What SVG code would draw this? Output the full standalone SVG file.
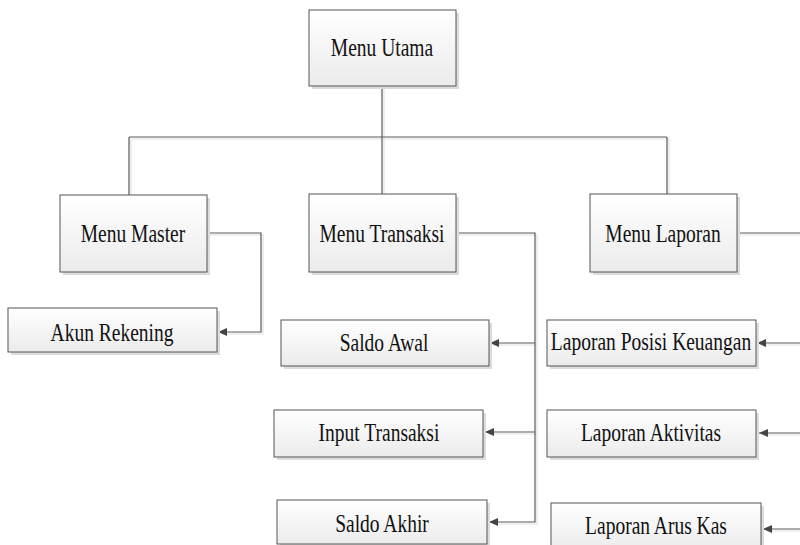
<svg xmlns="http://www.w3.org/2000/svg" width="800" height="545" viewBox="0 0 800 545">
  <style>
    .box { fill: url(#boxFill); stroke: #555; stroke-width: 1; }
    .shade { fill: #dcdcdc; }
    .label { font-size: 26px; fill: #111; text-anchor: middle; }
    .wires { fill: none; stroke: #5a5a5a; stroke-width: 1.2; }
    .wires-shade { fill: none; stroke: #e2e2e2; stroke-width: 1.2; }
  </style>
  <defs>
    <linearGradient id="boxFill" x1="0" y1="0" x2="0" y2="1">
      <stop offset="0" stop-color="#ffffff"/>
      <stop offset="1" stop-color="#ebebeb"/>
    </linearGradient>
    <marker id="arrow" markerUnits="userSpaceOnUse" markerWidth="12" markerHeight="12" refX="10" refY="6" orient="auto">
      <path d="M1,2 L10,6 L1,10 Z" fill="#444"/>
    </marker>
  </defs>

  <rect width="800" height="545" fill="#ffffff"/>

  <!-- connectors: soft shadow first, then the lines -->
  <g id="connectors">
    <g class="wires-shade" transform="translate(2,2)">
      <path d="M382,86 V137 M129,137 H667 M129,137 V195 M382,137 V194 M667,137 V194"/>
      <path d="M207,233 H261 V332 H220"/>
      <path d="M456,233 H535 V522 H492 M535,343 H492 M535,432 H487"/>
      <path d="M737,233 H810 M810,343 H760 M810,433 H762 M810,529 H765"/>
    </g>
    <g class="wires">
      <path d="M382,86 V137 M129,137 H667 M129,137 V195 M382,137 V194 M667,137 V194"/>
      <path d="M207,233 H261 V332 H218" marker-end="url(#arrow)"/>
      <path d="M456,233 H535 V522 H489" marker-end="url(#arrow)"/>
      <path d="M535,343 H490" marker-end="url(#arrow)"/>
      <path d="M535,432 H485" marker-end="url(#arrow)"/>
      <path d="M737,233 H810"/>
      <path d="M810,343 H757" marker-end="url(#arrow)"/>
      <path d="M810,433 H759" marker-end="url(#arrow)"/>
      <path d="M810,529 H763" marker-end="url(#arrow)"/>
    </g>
  </g>

  <!-- node labels use a condensed serif: scaled horizontally -->
  <g id="menu-utama">
    <rect class="shade" x="312" y="13" width="147" height="76"/>
    <rect class="box" x="309" y="10" width="147" height="76"/>
    <text class="label" font-family="Liberation Serif" transform="translate(382,56) scale(0.75,1)">Menu Utama</text>
  </g>

  <g id="menu-master">
    <rect class="shade" x="63" y="198" width="147" height="77"/>
    <rect class="box" x="60" y="195" width="147" height="77"/>
    <text class="label" font-family="Liberation Serif" transform="translate(133,242) scale(0.75,1)">Menu Master</text>
  </g>

  <g id="menu-transaksi">
    <rect class="shade" x="312" y="197" width="147" height="78"/>
    <rect class="box" x="309" y="194" width="147" height="78"/>
    <text class="label" font-family="Liberation Serif" transform="translate(382,242) scale(0.75,1)">Menu Transaksi</text>
  </g>

  <g id="menu-laporan">
    <rect class="shade" x="593" y="197" width="147" height="78"/>
    <rect class="box" x="590" y="194" width="147" height="78"/>
    <text class="label" font-family="Liberation Serif" transform="translate(663,242) scale(0.75,1)">Menu Laporan</text>
  </g>

  <g id="akun-rekening">
    <rect class="shade" x="11" y="311" width="209" height="44"/>
    <rect class="box" x="8" y="308" width="209" height="44"/>
    <text class="label" font-family="Liberation Serif" transform="translate(112,341) scale(0.75,1)">Akun Rekening</text>
  </g>

  <g id="saldo-awal">
    <rect class="shade" x="284" y="323" width="208" height="46"/>
    <rect class="box" x="281" y="320" width="208" height="46"/>
    <text class="label" font-family="Liberation Serif" transform="translate(384,351) scale(0.75,1)">Saldo Awal</text>
  </g>

  <g id="input-transaksi">
    <rect class="shade" x="277" y="413" width="209" height="47"/>
    <rect class="box" x="274" y="410" width="209" height="47"/>
    <text class="label" font-family="Liberation Serif" transform="translate(379,441) scale(0.75,1)">Input Transaksi</text>
  </g>

  <g id="saldo-akhir">
    <rect class="shade" x="280" y="503" width="210" height="44"/>
    <rect class="box" x="277" y="500" width="210" height="44"/>
    <text class="label" font-family="Liberation Serif" transform="translate(382,532) scale(0.75,1)">Saldo Akhir</text>
  </g>

  <g id="laporan-posisi-keuangan">
    <rect class="shade" x="550" y="323" width="209" height="46"/>
    <rect class="box" x="547" y="320" width="209" height="46"/>
    <text class="label" font-family="Liberation Serif" transform="translate(651,350) scale(0.75,1)">Laporan Posisi Keuangan</text>
  </g>

  <g id="laporan-aktivitas">
    <rect class="shade" x="550" y="413" width="209" height="47"/>
    <rect class="box" x="547" y="410" width="209" height="47"/>
    <text class="label" font-family="Liberation Serif" transform="translate(651,441) scale(0.75,1)">Laporan Aktivitas</text>
  </g>

  <g id="laporan-arus-kas">
    <rect class="shade" x="554" y="506" width="210" height="48"/>
    <rect class="box" x="551" y="503" width="210" height="48"/>
    <text class="label" font-family="Liberation Serif" transform="translate(656,534) scale(0.75,1)">Laporan Arus Kas</text>
  </g>
</svg>
